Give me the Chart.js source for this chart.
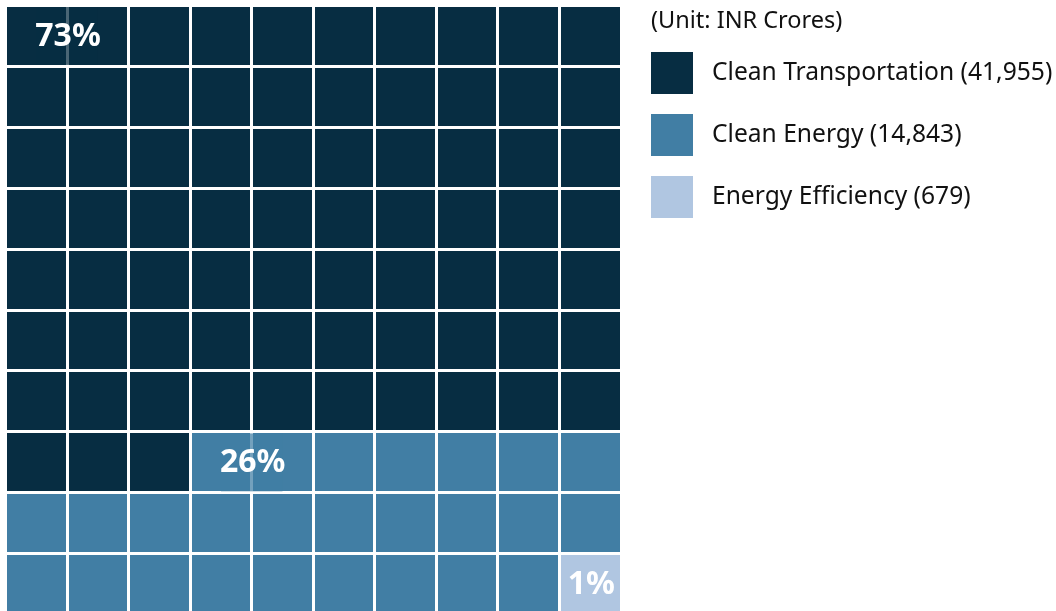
<!DOCTYPE html>
<html>
<head>
<meta charset="utf-8">
<script src="https://cdn.jsdelivr.net/npm/chart.js@4.4.1/dist/chart.umd.min.js"></script>
<style>
  html, body { margin: 0; padding: 0; background: #fff; }
  #wrap { width: 1056px; height: 611px; }
</style>
</head>
<body>
<div id="wrap"><canvas id="waffle" width="1056" height="611"></canvas></div>
<script>
// data
const categories = ['Clean Transportation', 'Clean Energy', 'Energy Efficiency'];
const amounts = [41955, 14843, 679];
const percents = [73, 26, 1];
const colors = ['#072d42', '#417ea4', '#b0c6e1'];
const unitLabel = '(Unit: INR Crores)';
const columns = ['1', '2', '3', '4', '5', '6', '7', '8', '9', '10'];

const GRID = 10;
const VISIBLE_ROWS = 9.94; // bottom row is cut by the canvas edge
const FONT = "'Noto Sans', sans-serif";

// waffle cells are filled row by row, left to right
let next = 0;
const runs = percents.map(p => { const r = { start: next, count: p }; next += p; return r; });
const columnCounts = runs.map(r => columns.map((_, c) => {
    let n = 0;
    for (let i = r.start; i < r.start + r.count; i++) if (i % GRID === c) n++;
    return n;
}));

const waffleLabels = {
    id: 'waffleLabels',
    afterDraw(chart) {
        const { ctx, scales: { x, y } } = chart;
        ctx.save();
        ctx.beginPath();
        ctx.rect(chart.chartArea.left, chart.chartArea.top, chart.chartArea.width, chart.chartArea.height);
        ctx.clip();
        runs.forEach((r, i) => {
            const row = Math.floor(r.start / GRID), col = r.start % GRID;
            const top = y.getPixelForValue(row) + 1.5, bottom = y.getPixelForValue(row + 1) - 1.5;
            let cx = x.getPixelForValue(col);
            if (r.count > 1 && col < GRID - 1) {
                const nx = x.getPixelForValue(col + 1);
                ctx.fillStyle = colors[i];
                ctx.globalAlpha = 0.73;
                ctx.fillRect(cx, top, nx - cx, bottom - top);
                ctx.globalAlpha = 1;
                cx = (cx + nx) / 2;
            }
            ctx.fillStyle = '#fff';
            ctx.font = `bold 32px ${FONT}`;
            ctx.textAlign = 'center';
            ctx.textBaseline = 'middle';
            ctx.fillText(percents[i] + '%', cx + 1, (top + bottom) / 2 + 1);
        });
        ctx.restore();

        // legend on the right
        ctx.save();
        ctx.fillStyle = '#111';
        ctx.textAlign = 'left';
        ctx.textBaseline = 'alphabetic';
        ctx.font = `23.5px ${FONT}`;
        ctx.fillText(unitLabel, 651, 28);
        ctx.font = `24.6px ${FONT}`;
        ctx.textBaseline = 'middle';
        categories.forEach((name, i) => {
            const top = 52 + i * 62;
            ctx.fillStyle = colors[i];
            ctx.fillRect(651, top, 42, 42);
            ctx.fillStyle = '#111';
            ctx.fillText(`${name} (${amounts[i].toLocaleString('en-US')})`, 712, top + 21);
        });
        ctx.restore();
    }
};

new Chart(document.getElementById('waffle'), {
    type: 'bar',
    data: {
        labels: columns,
        datasets: categories.map((name, i) => ({
            label: name,
            data: columnCounts[i],
            backgroundColor: colors[i],
            borderWidth: 0,
            barPercentage: 1,
            categoryPercentage: 1
        }))
    },
    options: {
        responsive: false,
        animation: false,
        devicePixelRatio: 1,
        layout: { padding: { left: 5.5, top: 5.5, right: 1056 - 621, bottom: 0 } },
        plugins: { legend: { display: false }, tooltip: { enabled: false } },
        scales: {
            x: {
                stacked: true,
                grid: { offset: true, color: '#fff', lineWidth: 3, z: 1, drawTicks: false },
                border: { display: false },
                ticks: { display: false }
            },
            y: {
                stacked: true,
                reverse: true,
                min: 0,
                max: VISIBLE_ROWS,
                afterBuildTicks: s => { s.ticks = s.ticks.filter(t => Number.isInteger(t.value)); },
                grid: { color: '#fff', lineWidth: 3, z: 1, drawTicks: false },
                border: { display: false },
                ticks: { display: false, stepSize: 1 }
            }
        }
    },
    plugins: [waffleLabels]
});
</script>
</body>
</html>
